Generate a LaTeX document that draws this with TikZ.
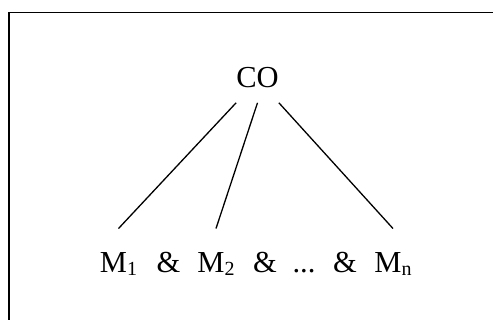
\documentclass[tikz,border=0pt]{standalone}
\usepackage{fontspec}
\setmainfont{Liberation Serif}
\newcommand{\msub}[1]% lowered small index
{\raisebox{-2.5pt}{\fontsize{20}{20}\selectfont #1}}
\usetikzlibrary{positioning}

\begin{document}
\begin{tikzpicture}[x=1pt,y=-1pt,
	every node/.style={font=\fontsize{30.5}{31}\selectfont, inner sep=0pt, anchor=base},
	root/.style={outer ysep=14.5pt},
	leaf/.style={outer ysep=24.5pt}]
	\useasboundingbox (0,0) rectangle (493,320);
	\draw[line width=1.7pt] (9,320) -- (9,12.5) -- (493,12.5);
	\node[root] (co) at (257.5,88){CO};
	\node[leaf] (m1) at (118.5,273){M\msub{1}};%1
	\node (amp1) at (168.5,273){\&};
	\node[leaf] (m2) at (216,273){M\msub{2}};%2
	\node (amp2) at (265,273){\&};
	\node (dots) at (304,273){...};
	\node (amp3) at (345,273){\&};
	\node[leaf] (mn) at (393,273){M\msub{n}};%n
	\draw[line width=1.3pt] (co.south west) -- (m1.north);
	\draw[line width=1.3pt] (co.south) -- (m2.north);
	\draw[line width=1.3pt] (co.south east) -- (mn.north);
\end{tikzpicture}
\end{document}
